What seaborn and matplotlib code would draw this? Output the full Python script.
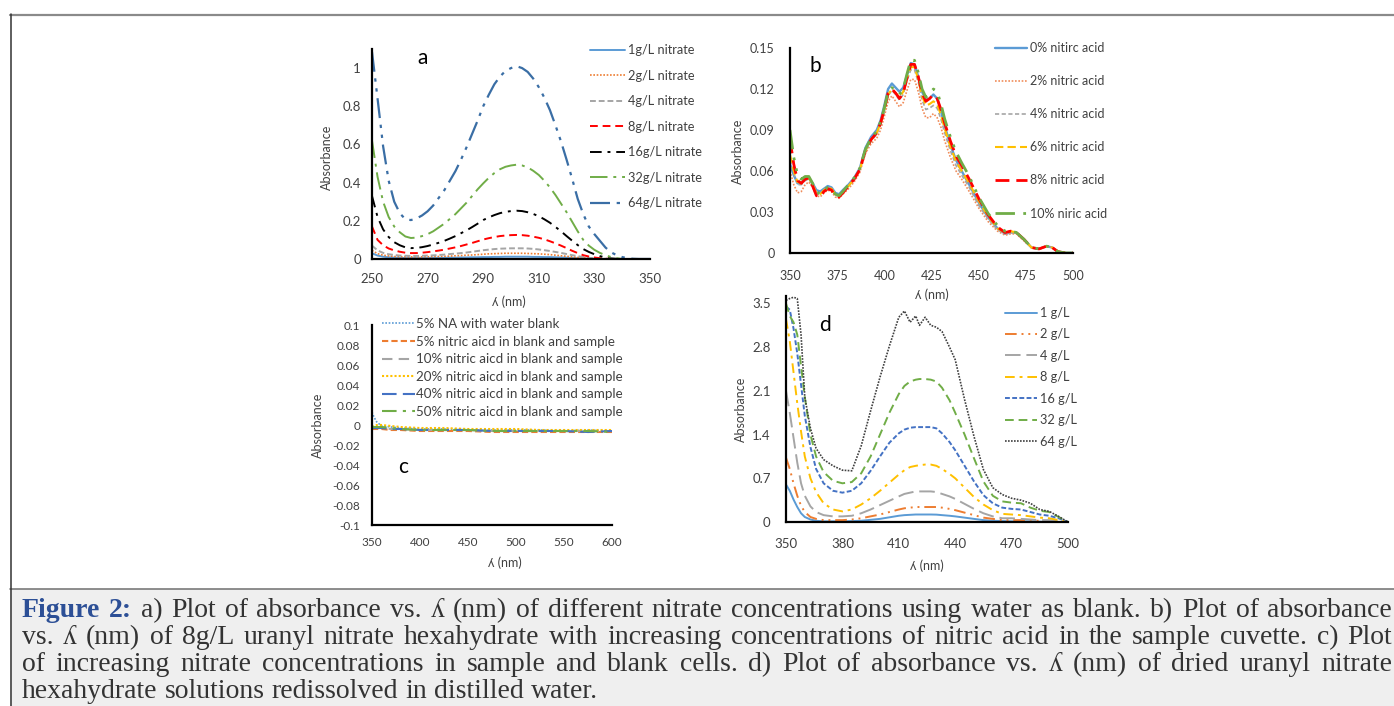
import matplotlib
matplotlib.use("Agg")
import matplotlib.pyplot as plt
from matplotlib.lines import Line2D
from matplotlib.patches import Rectangle
import seaborn as sns

# ---------------- data ----------------
# panel a: nitrate concentrations, water blank (every 2 nm)
wl_a = list(range(250, 351, 2))
a_1 = [0.03, 0.018, 0.012, 0.009, 0.007, 0.006, 0.005, 0.005, 0.005, 0.005,
       0.005, 0.006, 0.006, 0.006, 0.007, 0.007, 0.008, 0.008, 0.009, 0.009,
       0.01, 0.01, 0.011, 0.011, 0.012, 0.012, 0.012, 0.012, 0.012, 0.011,
       0.011, 0.01, 0.01, 0.009, 0.008, 0.007, 0.005, 0.004, 0.003, 0.002,
       0.001, 0, 0, 0, 0, 0, 0, 0, 0, 0, 0]
a_2 = [0.045, 0.028, 0.02, 0.016, 0.013, 0.012, 0.011, 0.011, 0.011, 0.011,
       0.012, 0.012, 0.013, 0.014, 0.015, 0.017, 0.018, 0.02, 0.021, 0.023,
       0.025, 0.027, 0.028, 0.029, 0.03, 0.03, 0.03, 0.03, 0.029, 0.028,
       0.027, 0.025, 0.023, 0.02, 0.017, 0.014, 0.011, 0.008, 0.006, 0.004,
       0.002, 0.001, 0, 0, 0, 0, 0, 0, 0, 0, 0]
a_4 = [0.07, 0.045, 0.032, 0.025, 0.021, 0.018, 0.017, 0.016, 0.016, 0.017,
       0.018, 0.019, 0.021, 0.023, 0.026, 0.028, 0.031, 0.034, 0.038, 0.042,
       0.046, 0.049, 0.052, 0.054, 0.055, 0.056, 0.056, 0.056, 0.055, 0.053,
       0.05, 0.046, 0.042, 0.037, 0.032, 0.026, 0.02, 0.015, 0.01, 0.006,
       0.004, 0.002, 0.001, 0, 0, 0, 0, 0, 0, 0, 0]
a_8 = [0.17, 0.1, 0.072, 0.055, 0.045, 0.038, 0.033, 0.031, 0.031, 0.033,
       0.036, 0.04, 0.044, 0.049, 0.055, 0.061, 0.068, 0.076, 0.084, 0.093,
       0.102, 0.109, 0.115, 0.12, 0.123, 0.125, 0.126, 0.125, 0.122, 0.117,
       0.111, 0.103, 0.093, 0.082, 0.07, 0.057, 0.043, 0.031, 0.02, 0.013,
       0.008, 0.004, 0.002, 0, 0, 0, 0, 0, 0, 0, 0]
a_16 = [0.33, 0.22, 0.155, 0.115, 0.088, 0.072, 0.061, 0.057, 0.058, 0.062,
        0.068, 0.076, 0.085, 0.095, 0.107, 0.12, 0.135, 0.15, 0.167, 0.185,
        0.204, 0.218, 0.23, 0.24, 0.247, 0.251, 0.253, 0.251, 0.245, 0.236,
        0.224, 0.208, 0.19, 0.168, 0.145, 0.12, 0.096, 0.073, 0.052, 0.037,
        0.025, 0.015, 0.008, 0.003, 0.001, 0, 0, 0, 0, 0, 0]
a_32 = [0.62, 0.43, 0.30, 0.22, 0.17, 0.14, 0.118, 0.11, 0.112, 0.12,
        0.13, 0.145, 0.165, 0.185, 0.21, 0.235, 0.265, 0.295, 0.33, 0.365,
        0.396, 0.425, 0.45, 0.47, 0.483, 0.49, 0.494, 0.49, 0.48, 0.462,
        0.44, 0.41, 0.375, 0.335, 0.29, 0.245, 0.195, 0.145, 0.1, 0.07,
        0.048, 0.032, 0.02, 0.01, 0.004, 0, 0, 0, 0, 0, 0]
a_64 = [1.085, 0.84, 0.59, 0.41, 0.30, 0.24, 0.208, 0.204, 0.212, 0.228,
        0.25, 0.28, 0.32, 0.36, 0.41, 0.46, 0.52, 0.585, 0.655, 0.725,
        0.80, 0.86, 0.915, 0.955, 0.985, 1.0, 1.01, 1.0, 0.98, 0.945,
        0.90, 0.845, 0.78, 0.70, 0.615, 0.52, 0.42, 0.315, 0.235, 0.17,
        0.13, 0.095, 0.06, 0.035, 0.02, 0.01, 0.004, 0.001, 0, 0, 0]
labels_a = ["1g/L nitrate", "2g/L nitrate", "4g/L nitrate", "8g/L nitrate",
            "16g/L nitrate", "32g/L nitrate", "64g/L nitrate"]

# panel b: 8 g/L uranyl nitrate with nitric acid
wl_b = [350, 352, 354, 356, 358, 360, 362, 364, 366, 368,
        370, 372, 374, 376, 378, 381, 384, 387, 390, 393,
        396, 398, 400, 402, 404, 406, 408, 410, 412, 414,
        416, 418, 420, 422, 424, 426, 428, 430, 432, 435,
        438, 441, 445, 450, 455, 460, 464, 467, 470, 474,
        478, 482, 486, 489, 492, 496, 500]
b_0 = [0.065, 0.057, 0.051, 0.051, 0.054, 0.055, 0.051, 0.046, 0.045, 0.047,
       0.049, 0.048, 0.044, 0.043, 0.046, 0.05, 0.055, 0.062, 0.077, 0.085,
       0.09, 0.097, 0.108, 0.12, 0.124, 0.121, 0.118, 0.121, 0.13, 0.139,
       0.138, 0.129, 0.118, 0.112, 0.113, 0.116, 0.113, 0.104, 0.093, 0.079,
       0.068, 0.06, 0.05, 0.037, 0.026, 0.018, 0.014, 0.015, 0.015, 0.01,
       0.004, 0.003, 0.005, 0.004, 0.001, 0.0, 0.0]
b_2 = [0.06, 0.05, 0.044, 0.045, 0.05, 0.052, 0.048, 0.042, 0.041, 0.044,
       0.046, 0.045, 0.041, 0.04, 0.043, 0.047, 0.052, 0.059, 0.073, 0.08,
       0.084, 0.09, 0.1, 0.111, 0.115, 0.111, 0.107, 0.11, 0.119, 0.127,
       0.127, 0.118, 0.106, 0.099, 0.099, 0.102, 0.099, 0.092, 0.082, 0.07,
       0.06, 0.054, 0.045, 0.033, 0.023, 0.016, 0.013, 0.014, 0.014, 0.009,
       0.004, 0.003, 0.005, 0.004, 0.001, 0.0, 0.0]
b_4 = [0.068, 0.058, 0.05, 0.05, 0.053, 0.054, 0.05, 0.044, 0.043, 0.046,
       0.048, 0.047, 0.043, 0.041, 0.044, 0.049, 0.054, 0.061, 0.075, 0.082,
       0.087, 0.094, 0.104, 0.115, 0.119, 0.116, 0.112, 0.116, 0.126, 0.134,
       0.134, 0.125, 0.112, 0.105, 0.106, 0.108, 0.106, 0.098, 0.088, 0.075,
       0.064, 0.057, 0.048, 0.035, 0.025, 0.017, 0.014, 0.015, 0.015, 0.01,
       0.004, 0.003, 0.005, 0.004, 0.001, 0.0, 0.0]
b_6 = [0.072, 0.06, 0.052, 0.051, 0.054, 0.055, 0.05, 0.044, 0.043, 0.046,
       0.048, 0.047, 0.043, 0.041, 0.044, 0.049, 0.054, 0.061, 0.075, 0.083,
       0.088, 0.095, 0.105, 0.116, 0.12, 0.117, 0.114, 0.118, 0.128, 0.136,
       0.136, 0.127, 0.115, 0.108, 0.109, 0.111, 0.109, 0.101, 0.091, 0.078,
       0.067, 0.06, 0.051, 0.038, 0.027, 0.018, 0.015, 0.016, 0.015, 0.01,
       0.004, 0.003, 0.005, 0.004, 0.001, 0.0, 0.0]
b_8 = [0.083, 0.065, 0.053, 0.051, 0.054, 0.055, 0.049, 0.042, 0.041, 0.045,
       0.047, 0.046, 0.042, 0.041, 0.044, 0.049, 0.054, 0.061, 0.075, 0.083,
       0.088, 0.095, 0.105, 0.117, 0.12, 0.117, 0.113, 0.117, 0.128, 0.138,
       0.138, 0.129, 0.117, 0.111, 0.113, 0.116, 0.113, 0.105, 0.095, 0.082,
       0.071, 0.064, 0.054, 0.04, 0.028, 0.019, 0.015, 0.016, 0.015, 0.01,
       0.004, 0.003, 0.005, 0.004, 0.001, 0.0, 0.0]
b_10 = [0.09, 0.07, 0.057, 0.054, 0.056, 0.056, 0.051, 0.045, 0.043, 0.046,
        0.048, 0.047, 0.043, 0.042, 0.045, 0.05, 0.055, 0.062, 0.076, 0.084,
        0.089, 0.096, 0.106, 0.118, 0.121, 0.119, 0.116, 0.12, 0.131, 0.141,
        0.141, 0.132, 0.12, 0.114, 0.116, 0.12, 0.118, 0.109, 0.098, 0.085,
        0.074, 0.066, 0.056, 0.041, 0.029, 0.02, 0.016, 0.016, 0.015, 0.01,
        0.004, 0.003, 0.005, 0.004, 0.001, 0.0, 0.0]
labels_b = ["0% nitirc acid", "2% nitric acid", "4% nitric acid", "6% nitric acid",
            "8% nitric acid", "10% niric acid"]

# panel c: nitric acid in sample and blank cells
wl_c = [350, 352, 355, 360, 370, 380, 400, 425, 450, 475, 500, 525, 550, 575, 600]
c_na = [0.013, 0.008, 0.003, -0.001, -0.002, -0.003, -0.004, -0.004, -0.005, -0.005, -0.005, -0.005, -0.006, -0.005, -0.006]
c_5 = [-0.004, -0.004, -0.004, -0.004, -0.005, -0.005, -0.006, -0.006, -0.006, -0.007, -0.007, -0.007, -0.007, -0.007, -0.007]
c_10 = [-0.003, -0.003, -0.003, -0.003, -0.004, -0.004, -0.005, -0.005, -0.005, -0.006, -0.006, -0.006, -0.006, -0.006, -0.006]
c_20 = [-0.002, -0.001, 0.0, 0.0, -0.001, -0.002, -0.003, -0.003, -0.004, -0.004, -0.004, -0.005, -0.005, -0.005, -0.005]
c_40 = [-0.003, -0.003, -0.003, -0.003, -0.004, -0.004, -0.005, -0.005, -0.005, -0.006, -0.006, -0.006, -0.006, -0.007, -0.006]
c_50 = [-0.002, -0.002, -0.002, -0.002, -0.003, -0.004, -0.005, -0.005, -0.005, -0.006, -0.006, -0.006, -0.006, -0.006, -0.007]
labels_c = ["5% NA with water blank", "5% nitric aicd in blank and sample",
            "10% nitric aicd in blank and sample", "20% nitric aicd in blank and sample",
            "40% nitric aicd in blank and sample", "50% nitric aicd in blank and sample"]

# panel d: dried uranyl nitrate redissolved in water
wl_d = [350, 352, 354, 356, 358, 360, 363, 366, 370, 375, 380, 385, 390, 395, 400, 405, 410, 413, 416, 419,
        421, 424, 427, 430, 433, 437, 440, 445, 450, 455, 460, 465, 470, 475, 480, 485, 490, 495, 500]
d_1 = [0.6, 0.5, 0.36, 0.24, 0.14, 0.08, 0.04, 0.02, 0.01, 0.01, 0.01, 0.015, 0.02, 0.035, 0.05, 0.075, 0.1,
       0.11, 0.115, 0.12, 0.12, 0.12, 0.12, 0.118, 0.11, 0.1, 0.09, 0.07, 0.05, 0.03, 0.02, 0.015, 0.01,
       0.01, 0.01, 0.005, 0.0, 0.0, 0.0]
d_2 = [1.03, 0.85, 0.62, 0.42, 0.26, 0.16, 0.08, 0.05, 0.03, 0.03, 0.03, 0.04, 0.06, 0.09, 0.12, 0.16, 0.2,
       0.22, 0.23, 0.24, 0.24, 0.24, 0.24, 0.24, 0.23, 0.21, 0.19, 0.15, 0.11, 0.07, 0.05, 0.03, 0.03,
       0.03, 0.02, 0.02, 0.01, 0.0, 0.0]
d_4 = [2.1, 1.75, 1.35, 0.95, 0.62, 0.42, 0.25, 0.16, 0.11, 0.09, 0.09, 0.1, 0.14, 0.2, 0.27, 0.34, 0.41,
       0.45, 0.47, 0.49, 0.49, 0.49, 0.49, 0.48, 0.45, 0.41, 0.37, 0.29, 0.21, 0.14, 0.09, 0.06, 0.06,
       0.05, 0.04, 0.03, 0.03, 0.01, 0.0]
d_8 = [3.25, 2.9, 2.4, 1.9, 1.45, 1.05, 0.7, 0.48, 0.3, 0.2, 0.17, 0.2, 0.28, 0.38, 0.5, 0.63, 0.76,
       0.83, 0.88, 0.9, 0.91, 0.92, 0.92, 0.9, 0.85, 0.77, 0.7, 0.55, 0.4, 0.28, 0.19, 0.13, 0.12,
       0.11, 0.09, 0.07, 0.06, 0.03, 0.0]
d_16 = [3.45, 3.4, 3.1, 2.7, 2.2, 1.7, 1.2, 0.85, 0.62, 0.5, 0.47, 0.5, 0.62, 0.82, 1.05, 1.27, 1.42,
        1.48, 1.51, 1.52, 1.52, 1.52, 1.52, 1.5, 1.42, 1.28, 1.15, 0.9, 0.65, 0.43, 0.3, 0.23, 0.21,
        0.2, 0.16, 0.12, 0.1, 0.06, 0.0]
d_32 = [3.5, 3.3, 3.2, 3.0, 2.5, 2.0, 1.4, 1.05, 0.8, 0.66, 0.62, 0.64, 0.78, 1.05, 1.4, 1.75, 2.05,
        2.18, 2.25, 2.28, 2.29, 2.29, 2.28, 2.25, 2.15, 1.95, 1.75, 1.4, 1.02, 0.65, 0.42, 0.33, 0.31,
        0.3, 0.23, 0.18, 0.16, 0.08, 0.0]
d_64 = [3.55, 3.58, 3.6, 3.58, 3.0, 2.0, 1.5, 1.18, 1.0, 0.9, 0.83, 0.82, 1.22, 1.78, 2.32, 2.82, 3.28,
        3.38, 3.2, 3.3, 3.15, 3.28, 3.15, 3.12, 3.05, 2.8, 2.6, 1.96, 1.37, 0.84, 0.55, 0.44, 0.38,
        0.35, 0.3, 0.2, 0.17, 0.09, 0.0]
labels_d = ["1 g/L", "2 g/L", "4 g/L", "8 g/L", "16 g/L", "32 g/L", "64 g/L"]

caption_lines = [
    "Figure 2: a) Plot of absorbance vs. \u028e (nm) of different nitrate concentrations using water as blank. b) Plot of absorbance",
    "vs. \u028e (nm) of 8g/L uranyl nitrate hexahydrate with increasing concentrations of nitric acid in the sample cuvette. c) Plot",
    "of increasing nitrate concentrations in sample and blank cells. d) Plot of absorbance vs. \u028e (nm) of dried uranyl nitrate",
    "hexahydrate solutions redissolved in distilled water.",
]

# ---------------- styles ----------------
BLUE, ORANGE, GRAY, YELLOW, DBLUE, GREEN = "#5b9bd5", "#ed7d31", "#a5a5a5", "#ffc000", "#4472c4", "#70ad47"
styles_a = [(BLUE, "-", 1.4), (ORANGE, (0, (1, 1)), 1.2), (GRAY, (0, (3, 1.5)), 1.4), ("#ff0000", (0, (4, 2.5)), 1.4),
            ("black", (0, (6, 3, 1.5, 3)), 1.4), (GREEN, (0, (9, 3, 1.5, 3)), 1.4),
            ("#3a6ea5", (0, (9, 3, 1.5, 3, 1.5, 3)), 1.6)]
styles_b = [(BLUE, "-", 1.7), ("#f08c5a", (0, (1, 1)), 1.2), (GRAY, (0, (2.5, 1.5)), 1.2), (YELLOW, (0, (4, 2)), 1.5),
            ("#ff0000", (0, (5, 2.5)), 2.0), (GREEN, (0, (7, 3, 1, 3, 1, 3)), 2.0)]
styles_c = [(BLUE, (0, (1, 1)), 1.2), (ORANGE, (0, (3, 1.5)), 1.5), (GRAY, (0, (5, 3)), 1.5),
            (YELLOW, (0, (1, 1)), 1.5), (DBLUE, (0, (7, 3)), 1.5), (GREEN, (0, (7, 3, 1.5, 3)), 1.5)]
styles_d = [(BLUE, "-", 1.4), (ORANGE, (0, (6, 2.5, 1, 2.5, 1, 2.5)), 1.4), (GRAY, (0, (8, 3)), 1.4),
            (YELLOW, (0, (5, 2.5, 1.5, 2.5)), 1.4), (DBLUE, (0, (2.5, 1.2)), 1.4), (GREEN, (0, (4.5, 2.5)), 1.4),
            ("#404040", (0, (1, 0.8)), 1.2)]

W, H = 1394, 706
sns.set_theme(style="white")
plt.rcParams["font.family"] = ["Lato", "DejaVu Sans"]
plt.rcParams["axes.unicode_minus"] = False
TXT = "#404040"

fig = plt.figure(figsize=(W / 100, H / 100), dpi=100)
fig.patch.set_facecolor("white")


def make_ax(left, top, right, bottom):
    return fig.add_axes([left / W, 1 - bottom / H, (right - left) / W, (bottom - top) / H])


def panel(ax, wl, series, labels, styles, xlim, ylim, xticks, yticks, yticklabels, tick_fs, xpad, ypad):
    for vals, lab, (c, ls, lw) in zip(series, labels, styles):
        sns.lineplot(x=wl, y=vals, ax=ax, color=c, linestyle=ls, linewidth=lw, label=lab,
                     errorbar=None, sort=False)
    ax.set_xlim(*xlim)
    ax.set_ylim(*ylim)
    ax.set_xticks(xticks)
    ax.set_xticklabels([str(t) for t in xticks])
    ax.set_yticks(yticks)
    ax.set_yticklabels(yticklabels)
    ax.tick_params(axis="x", length=0, pad=xpad, labelsize=tick_fs, labelcolor=TXT)
    ax.tick_params(axis="y", length=0, pad=ypad, labelsize=tick_fs, labelcolor=TXT)
    sns.despine(ax=ax)
    for s in ("left", "bottom"):
        ax.spines[s].set_color("black")
        ax.spines[s].set_linewidth(1.6)
    ax.patch.set_alpha(0)
    ax.grid(False)


def labels_and_legend(ax, xl, yl, letter, lpos, leg):
    ax.set_xlabel("\u028e (nm)", fontsize=9, color=TXT)
    ax.set_ylabel("Absorbance", fontsize=9, color=TXT)
    ax.xaxis.set_label_coords(*xl)
    ax.yaxis.set_label_coords(*yl)
    ax.xaxis.label.set_va("center")
    ax.yaxis.label.set_va("center")
    ax.text(lpos[0], lpos[1], letter, transform=ax.transAxes, fontsize=15, color="black",
            ha="center", va="center")
    lx, ly, fs, hl, htp, ls = leg
    ax.legend(loc="upper left", bbox_to_anchor=(lx / W, 1 - ly / H), bbox_transform=fig.transFigure,
              frameon=False, fontsize=fs, handlelength=hl, handletextpad=htp, labelspacing=ls,
              borderpad=0, borderaxespad=0, labelcolor=TXT)


# panel a
ax_a = make_ax(372, 49, 650, 259)
panel(ax_a, wl_a, [a_1, a_2, a_4, a_8, a_16, a_32, a_64], labels_a, styles_a, (250, 350), (0, 1.1),
      [250, 270, 290, 310, 330, 350], [0, 0.2, 0.4, 0.6, 0.8, 1], ["0", "0.2", "0.4", "0.6", "0.8", "1"],
      9.5, 10, 8)
labels_and_legend(ax_a, (0.493, -0.205), (-0.162, 0.486), "a", (0.183, 0.957),
                  (590, 44, 9.2, 2.73, 0.23, 1.06))

# panel b
ax_b = make_ax(790, 48, 1073, 253)
panel(ax_b, wl_b, [b_0, b_2, b_4, b_6, b_8, b_10], labels_b, styles_b, (350, 500), (0, 0.15),
      [350, 375, 400, 425, 450, 475, 500], [0, 0.03, 0.06, 0.09, 0.12, 0.15],
      ["0", "0.03", "0.06", "0.09", "0.12", "0.15"], 9, 12, 11)
labels_and_legend(ax_b, (0.501, -0.203), (-0.184, 0.494), "b", (0.088, 0.914),
                  (995, 42, 9.0, 2.56, 0.24, 1.69))

# panel c
ax_c = make_ax(372, 325, 612, 525)
panel(ax_c, wl_c, [c_na, c_5, c_10, c_20, c_40, c_50], labels_c, styles_c, (350, 600), (-0.1, 0.1),
      [350, 400, 450, 500, 550, 600],
      [-0.1, -0.08, -0.06, -0.04, -0.02, 0, 0.02, 0.04, 0.06, 0.08, 0.1],
      ["-0.1", "-0.08", "-0.06", "-0.04", "-0.02", "0", "0.02", "0.04", "0.06", "0.08", "0.1"],
      8.5, 8.5, 8.5)
labels_and_legend(ax_c, (0.555, -0.19), (-0.224, 0.5), "c", (0.13, 0.29),
                  (382, 318, 9.6, 2.48, 0.08, 0.42))

# panel d
ax_d = make_ax(786, 296, 1068, 522)
panel(ax_d, wl_d, [d_1, d_2, d_4, d_8, d_16, d_32, d_64], labels_d, styles_d, (350, 500), (0, 3.62),
      [350, 380, 410, 440, 470, 500], [0, 0.7, 1.4, 2.1, 2.8, 3.5], ["0", "0.7", "1.4", "2.1", "2.8", "3.5"],
      9.5, 11.5, 11)
labels_and_legend(ax_d, (0.5, -0.193), (-0.16, 0.497), "d", (0.139, 0.873),
                  (1005, 307, 9.2, 2.5, 0.23, 0.74))

# ---------------- frame and caption ----------------
fig.add_artist(Rectangle((10 / W, 0), (W - 10) / W, (H - 589) / H, transform=fig.transFigure,
                         facecolor="#efefef", edgecolor="none", zorder=0))
fig.add_artist(Line2D([10 / W, 1], [1 - 588.5 / H, 1 - 588.5 / H], transform=fig.transFigure,
                      color="#7a7a7a", lw=1.2))
fig.add_artist(Line2D([10 / W, 1], [1 - 14.5 / H, 1 - 14.5 / H], transform=fig.transFigure,
                      color="#8a8a8a", lw=1.6))
fig.add_artist(Line2D([10.5 / W, 10.5 / W], [0, 1 - 14 / H], transform=fig.transFigure,
                      color="#333333", lw=1.1))

cap_font = ["Liberation Serif", "DejaVu Serif"]
x0, x1 = 22, 1392
baselines = [617, 644, 671, 698]
renderer = fig.canvas.get_renderer()


def space_width(fs):
    p1 = fig.text(0, 0, "a a", fontsize=fs, family=cap_font)
    p2 = fig.text(0, 0, "aa", fontsize=fs, family=cap_font)
    w = p1.get_window_extent(renderer).width - p2.get_window_extent(renderer).width
    p1.remove()
    p2.remove()
    return w


for i, (line, yb) in enumerate(zip(caption_lines, baselines)):
    words = line.split(" ")
    fs = 20
    while True:
        texts = []
        for j, w in enumerate(words):
            bold = (i == 0 and j < 2)
            t = fig.text(0, 1 - yb / H, w, fontsize=fs, family=cap_font, va="baseline",
                         weight="bold" if bold else "normal", color="#2c4f96" if bold else "#333333")
            texts.append(t)
        widths = [t.get_window_extent(renderer).width for t in texts]
        sw = space_width(fs)
        if sum(widths) + 0.7 * sw * (len(words) - 1) <= x1 - x0 or fs < 14:
            break
        for t in texts:
            t.remove()
        fs -= 0.25
    if i < len(caption_lines) - 1:
        gap = (x1 - x0 - sum(widths)) / (len(texts) - 1)
    else:
        gap = sw
    x = x0
    for t, w in zip(texts, widths):
        t.set_x(x / W)
        x += w + gap

fig.savefig("out.png", dpi=100, facecolor="white")
